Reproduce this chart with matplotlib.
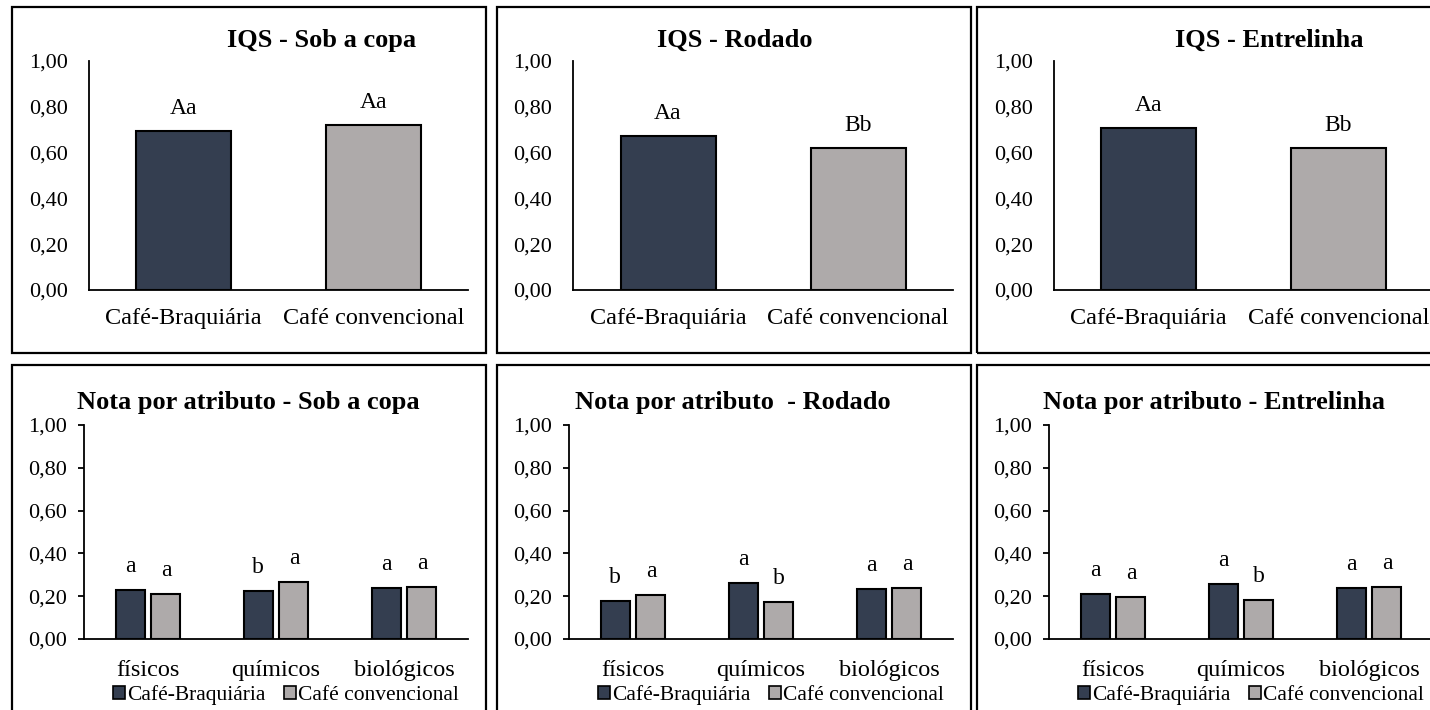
import numpy as np
import matplotlib
matplotlib.use("Agg")
import matplotlib.pyplot as plt
from matplotlib.patches import Rectangle, Patch

plt.rcParams['font.family'] = ['Liberation Serif', 'DejaVu Serif']

W, H = 1430, 710
DARK = '#343E50'
LIGHT = '#AEAAAA'

# dados - IQS
sistemas = ['Café-Braquiária', 'Café convencional']
iqs_titulos = ['IQS - Sob a copa', 'IQS - Rodado', 'IQS - Entrelinha']
iqs_copa = [0.694, 0.720]
iqs_rodado = [0.674, 0.620]
iqs_entrelinha = [0.707, 0.620]
iqs_letras_copa = ['Aa', 'Aa']
iqs_letras_rodado = ['Aa', 'Bb']
iqs_letras_entrelinha = ['Aa', 'Bb']

# dados - nota por atributo
atributos = ['físicos', 'químicos', 'biológicos']
nota_titulos = ['Nota por atributo - Sob a copa', 'Nota por atributo  - Rodado',
                'Nota por atributo - Entrelinha']
braq_copa = [0.229, 0.224, 0.238]
conv_copa = [0.210, 0.266, 0.243]
braq_rodado = [0.179, 0.260, 0.235]
conv_rodado = [0.204, 0.173, 0.240]
braq_entrelinha = [0.210, 0.258, 0.237]
conv_entrelinha = [0.195, 0.184, 0.241]
letras_braq_copa = ['a', 'b', 'a']
letras_conv_copa = ['a', 'a', 'a']
letras_braq_rodado = ['b', 'a', 'a']
letras_conv_rodado = ['a', 'b', 'a']
letras_braq_entrelinha = ['a', 'a', 'a']
letras_conv_entrelinha = ['a', 'b', 'a']

yticks = [0, 0.2, 0.4, 0.6, 0.8, 1.0]
ylabels = ['0,00', '0,20', '0,40', '0,60', '0,80', '1,00']


def px(l, t, r, b):
    return [l / W, 1 - b / H, (r - l) / W, (b - t) / H]


fig = plt.figure(figsize=(W / 100, H / 100), dpi=100)

# molduras
for (l, t, r, b) in [(12, 7, 486, 353), (497, 7, 971, 353), (977, 7, 1440, 353),
                     (12, 365, 486, 720), (497, 365, 971, 720), (977, 365, 1440, 720)]:
    fig.patches.append(Rectangle((l / W, 1 - b / H), (r - l) / W, (b - t) / H,
                                 transform=fig.transFigure, fill=False,
                                 edgecolor='black', lw=1.6, zorder=0))


def estilo(ax, ticks):
    for s in ['top', 'right']:
        ax.spines[s].set_visible(False)
    ax.spines['left'].set_linewidth(1.3)
    ax.spines['bottom'].set_linewidth(1.3)
    ax.set_ylim(0, 1)
    ax.set_yticks(yticks)
    ax.set_yticklabels(ylabels)
    if ticks:
        ax.tick_params(axis='x', length=0, labelsize=17.5, pad=15)
        ax.tick_params(axis='y', length=4, width=1.3, labelsize=16, pad=8)
    else:
        ax.tick_params(axis='x', length=0, labelsize=17.5, pad=13)
        ax.tick_params(axis='y', length=0, labelsize=16, pad=15)
    ax.patch.set_alpha(0)


# linha de cima
iqs_vals = [iqs_copa, iqs_rodado, iqs_entrelinha]
iqs_letras = [iqs_letras_copa, iqs_letras_rodado, iqs_letras_entrelinha]
top_axes = [(89, 61, 468, 290), (573, 61, 953, 290), (1054, 61, 1433, 290)]
top_title_x = [322, 735, 1269]
for i in range(3):
    ax = fig.add_axes(px(*top_axes[i]))
    x = np.arange(len(sistemas))
    ax.bar(x, iqs_vals[i], width=0.5, color=[DARK, LIGHT], edgecolor='black', lw=1.5)
    for xi, v, lt in zip(x, iqs_vals[i], iqs_letras[i]):
        ax.annotate(lt, (xi, v), xytext=(0, 12), textcoords='offset points',
                    ha='center', va='baseline', fontsize=17)
    ax.set_xlim(-0.5, 1.5)
    ax.set_xticks(x)
    ax.set_xticklabels(sistemas)
    estilo(ax, False)
    fig.text(top_title_x[i] / W, 1 - 40 / H, iqs_titulos[i], ha='center', va='center',
             fontsize=19, fontweight='bold')

# linha de baixo
braq = [braq_copa, braq_rodado, braq_entrelinha]
conv = [conv_copa, conv_rodado, conv_entrelinha]
lb = [letras_braq_copa, letras_braq_rodado, letras_braq_entrelinha]
lc = [letras_conv_copa, letras_conv_rodado, letras_conv_entrelinha]
bot_axes = [(84, 425, 468, 639), (569, 425, 953, 639), (1049, 425, 1433, 639)]
bot_title_x = [248, 733, 1214]
for i in range(3):
    ax = fig.add_axes(px(*bot_axes[i]))
    x = np.arange(len(atributos))
    ax.bar(x - 0.14, braq[i], width=0.227, color=DARK, edgecolor='black', lw=1.5,
           label=sistemas[0])
    ax.bar(x + 0.14, conv[i], width=0.227, color=LIGHT, edgecolor='black', lw=1.5,
           label=sistemas[1])
    for xi, v, lt in zip(x - 0.14, braq[i], lb[i]):
        ax.annotate(lt, (xi, v), xytext=(0, 13), textcoords='offset points',
                    ha='center', va='baseline', fontsize=17)
    for xi, v, lt in zip(x + 0.14, conv[i], lc[i]):
        ax.annotate(lt, (xi, v), xytext=(0, 13), textcoords='offset points',
                    ha='center', va='baseline', fontsize=17)
    ax.set_xlim(-0.5, 2.5)
    ax.set_xticks(x)
    ax.set_xticklabels(atributos)
    estilo(ax, True)
    fig.text(bot_title_x[i] / W, 1 - 403 / H, nota_titulos[i], ha='center', va='center',
             fontsize=19, fontweight='bold')
    cx = (bot_axes[i][0] + bot_axes[i][2]) / 2 + 10
    ax.legend(handles=[Patch(facecolor=DARK, edgecolor='black', lw=1.2, label=sistemas[0]),
                       Patch(facecolor=LIGHT, edgecolor='black', lw=1.2, label=sistemas[1])],
              loc='center', bbox_to_anchor=(cx / W, 1 - 695 / H),
              bbox_transform=fig.transFigure, ncol=2, frameon=False, fontsize=15.5,
              handlelength=0.55, handleheight=0.55, handletextpad=0.1, columnspacing=0.9,
              borderpad=0)

fig.savefig('out.png', dpi=100)
